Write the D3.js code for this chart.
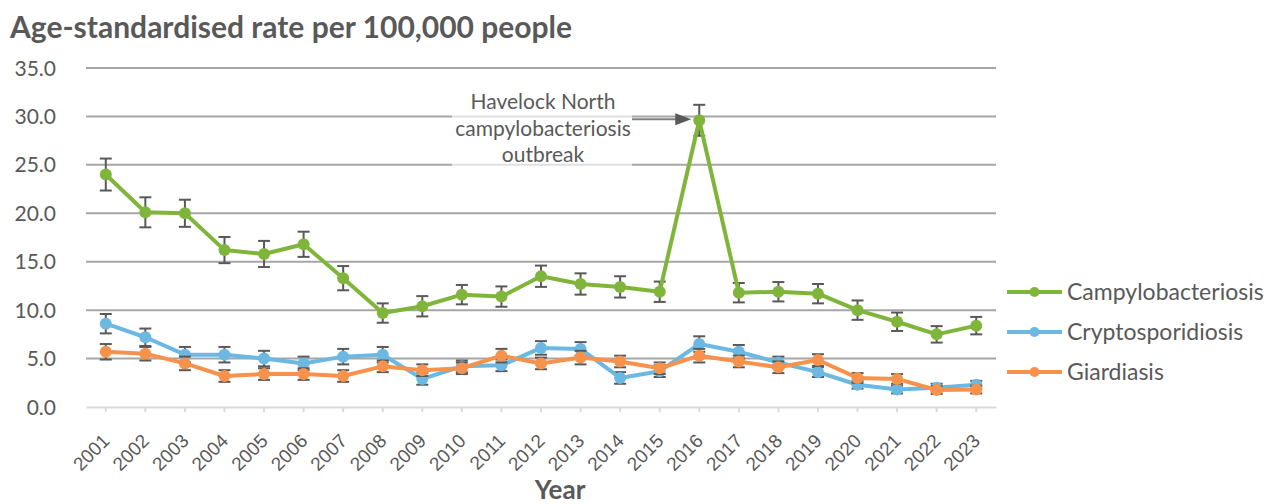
<!DOCTYPE html>
<html>
<head>
<meta charset="utf-8">
<script src="https://cdn.jsdelivr.net/npm/d3@7"></script>
<style>
  body { margin: 0; background: #fff; }
  svg { display: block; font-family: Lato, "Open Sans", sans-serif; }
  .grid line { stroke: #a6a6a6; stroke-width: 2; }
  .x-axis path, .x-axis line { stroke: #d9d9d9; stroke-width: 2; }
  .y-label { fill: #595959; font-size: 21px; }
  .legend-text { fill: #595959; font-size: 23px; }
  .note { fill: #595959; font-size: 21px; }
</style>
</head>
<body>
<svg id="chart" width="1270" height="504"></svg>
<script>

/*** DATA ***/

let years = ["2001","2002","2003","2004","2005","2006","2007","2008","2009","2010","2011","2012",
             "2013","2014","2015","2016","2017","2018","2019","2020","2021","2022","2023"];

let campy = [24.0,20.1,20.0,16.2,15.8,16.8,13.3,9.7,10.4,11.6,11.4,13.5,12.7,12.4,11.9,29.6,11.8,11.9,11.7,10.0,8.8,7.5,8.4];
let campy_err = [1.65,1.55,1.4,1.35,1.35,1.3,1.25,1.0,1.05,1.0,1.05,1.1,1.1,1.1,1.05,1.6,1.0,1.0,1.0,1.0,0.95,0.85,0.9];

let crypto = [8.6,7.2,5.4,5.4,5.0,4.5,5.2,5.4,2.9,4.2,4.3,6.1,6.0,3.0,3.7,6.5,5.7,4.6,3.6,2.3,1.8,2.0,2.3];
let crypto_err = [1.0,0.9,0.8,0.8,0.8,0.7,0.8,0.8,0.6,0.6,0.6,0.7,0.7,0.6,0.6,0.8,0.7,0.6,0.5,0.4,0.4,0.4,0.4];

let giardia = [5.7,5.5,4.5,3.2,3.4,3.4,3.2,4.2,3.8,4.0,5.3,4.5,5.1,4.7,4.0,5.3,4.7,4.1,4.85,3.0,2.9,1.75,1.8];
let giardia_err = [0.8,0.7,0.7,0.6,0.6,0.6,0.6,0.6,0.6,0.6,0.7,0.6,0.7,0.6,0.6,0.7,0.6,0.6,0.6,0.5,0.5,0.4,0.4];

let series_names = ["Campylobacteriosis", "Cryptosporidiosis", "Giardiasis"];
let y_ticks = [0, 5, 10, 15, 20, 25, 30, 35];
let note_lines = ["Havelock North", "campylobacteriosis", "outbreak"];

/*** SETUP ***/

let svg = d3.select("#chart");
let colors = ["#80b53c", "#6bb8e2", "#f7924d"];
let series = [
    {name: series_names[0], values: campy, err: campy_err, color: colors[0]},
    {name: series_names[1], values: crypto, err: crypto_err, color: colors[1]},
    {name: series_names[2], values: giardia, err: giardia_err, color: colors[2]}
];

let plot = {left: 86, right: 996, top: 68, bottom: 407};

let x = d3.scaleBand().domain(years).range([plot.left, plot.right]),
    y = d3.scaleLinear().domain([0, 35]).range([plot.bottom, plot.top]);

let cx = (d) => x(d) + x.bandwidth() / 2;

// title
svg.append("text")
    .attr("x", 10).attr("y", 38)
    .attr("fill", "#595959")
    .attr("font-size", "30px")
    .attr("font-weight", "bold")
    .text("Age-standardised rate per 100,000 people");

// gridlines (0 is the x axis)
svg.append("g").classed("grid", true)
    .selectAll("line")
    .data(y_ticks.filter((d) => d > 0)).enter()
    .append("line")
    .attr("x1", plot.left).attr("x2", plot.right)
    .attr("y1", (d) => y(d)).attr("y2", (d) => y(d));

svg.selectAll("text.y-label")
    .data(y_ticks).enter()
    .append("text")
    .classed("y-label", true)
    .attr("x", 56)
    .attr("y", (d) => y(d))
    .attr("dy", "0.36em")
    .attr("text-anchor", "end")
    .text((d) => d3.format(".1f")(d));

// x axis
let x_axis = svg.append("g")
    .classed("x-axis", true)
    .attr("transform", `translate(0, ${plot.bottom})`)
    .call(d3.axisBottom(x).tickSize(5).tickSizeOuter(0));

x_axis.selectAll("text")
    .attr("x", 0).attr("y", 0).attr("dy", 0)
    .attr("text-anchor", "end")
    .attr("transform", "translate(5, 35) rotate(-45)")
    .style("font-size", "19px")
    .style("fill", "#595959");

svg.append("text")
    .attr("x", 560).attr("y", 499)
    .attr("text-anchor", "middle")
    .attr("fill", "#595959")
    .attr("font-size", "26px")
    .attr("font-weight", "bold")
    .text("Year");

// annotation box + text
svg.append("rect")
    .attr("x", 452).attr("y", 88)
    .attr("width", 180).attr("height", 82)
    .attr("fill", "#fff").attr("opacity", 0.65);

svg.selectAll("text.note")
    .data(note_lines).enter()
    .append("text")
    .classed("note", true)
    .attr("x", 543)
    .attr("y", (d, i) => 102 + i * 26.5)
    .attr("dy", "0.35em")
    .attr("text-anchor", "middle")
    .text((d) => d);

// series
let line = d3.line().x((d, i) => cx(years[i])).y((d) => y(d));

series.forEach((s) => {
    let g = svg.append("g");

    // error bars
    let eb = g.selectAll("g.err")
        .data(s.values).enter()
        .append("g")
        .attr("stroke", "#595959")
        .attr("stroke-width", 2);
    eb.append("line")
        .attr("x1", (d, i) => cx(years[i])).attr("x2", (d, i) => cx(years[i]))
        .attr("y1", (d, i) => y(d + s.err[i])).attr("y2", (d, i) => y(d - s.err[i]));
    eb.append("line")
        .attr("x1", (d, i) => cx(years[i]) - 6).attr("x2", (d, i) => cx(years[i]) + 6)
        .attr("y1", (d, i) => y(d + s.err[i])).attr("y2", (d, i) => y(d + s.err[i]));
    eb.append("line")
        .attr("x1", (d, i) => cx(years[i]) - 6).attr("x2", (d, i) => cx(years[i]) + 6)
        .attr("y1", (d, i) => y(d - s.err[i])).attr("y2", (d, i) => y(d - s.err[i]));

    g.append("path")
        .datum(s.values)
        .attr("d", line)
        .attr("fill", "none")
        .attr("stroke", s.color)
        .attr("stroke-width", 4)
        .attr("stroke-linejoin", "round");

    g.selectAll("circle")
        .data(s.values).enter()
        .append("circle")
        .attr("cx", (d, i) => cx(years[i]))
        .attr("cy", (d) => y(d))
        .attr("r", 6)
        .attr("fill", s.color);
});

// arrow to the 2016 peak
let peak_x = cx("2016"), peak_y = y(campy[15]);
svg.append("line")
    .attr("x1", 632).attr("x2", peak_x - 22)
    .attr("y1", peak_y - 1).attr("y2", peak_y - 1)
    .attr("stroke", "#7f7f7f").attr("stroke-width", 2);
svg.append("path")
    .attr("d", `M${peak_x - 8},${peak_y - 1} L${peak_x - 24},${peak_y - 7} L${peak_x - 24},${peak_y + 5} Z`)
    .attr("fill", "#595959");

// legend
let legend = svg.selectAll("g.legend")
    .data(series).enter()
    .append("g")
    .attr("transform", (d, i) => `translate(1007, ${292 + i * 40})`);

legend.append("line")
    .attr("x1", 0).attr("x2", 55)
    .attr("stroke", (d) => d.color)
    .attr("stroke-width", 4);
legend.append("circle")
    .attr("cx", 27.5).attr("r", 5)
    .attr("fill", (d) => d.color);
legend.append("text")
    .classed("legend-text", true)
    .attr("x", 60).attr("dy", "0.36em")
    .text((d) => d.name);

</script>
</body>
</html>
